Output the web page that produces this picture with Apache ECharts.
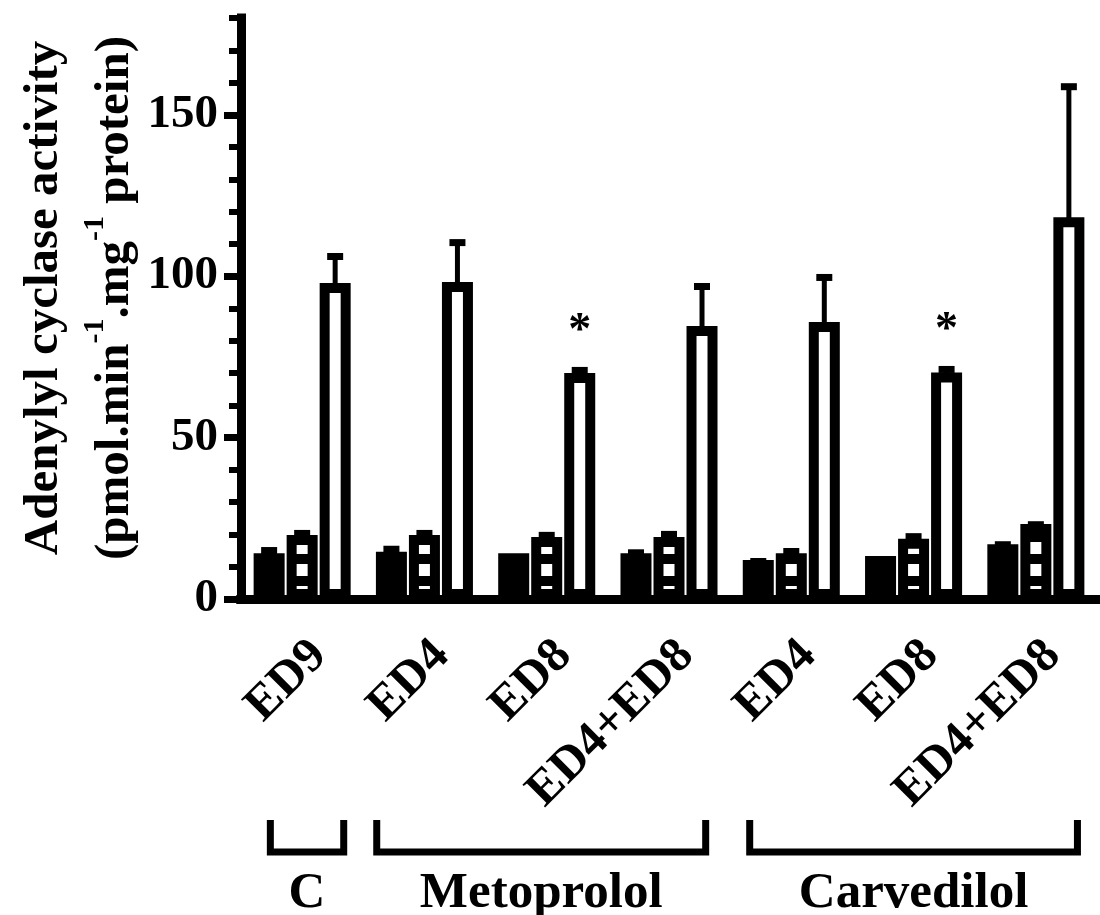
<!DOCTYPE html>
<html>
<head>
<meta charset="utf-8">
<script src="https://cdn.jsdelivr.net/npm/echarts@6/dist/echarts.min.js"></script>
<style>
  html, body { margin: 0; padding: 0; background: #fff; }
  #chart { width: 1100px; height: 915px; }
</style>
</head>
<body>
<div id="chart"></div>
<script>
// ---------- data ----------
const categories = ['ED9', 'ED4', 'ED8', 'ED4+ED8', 'ED4', 'ED8', 'ED4+ED8'];
const solidValues   = [14.2, 14.6, 14.2, 14.2, 12.1, 13.3, 17.0];
const solidErrors   = [1.9, 1.9, 0.0, 1.2, 0.6, 0.0, 0.9];
const stripedValues = [19.8, 19.8, 19.2, 19.2, 14.2, 18.7, 23.2];
const stripedErrors = [1.6, 1.6, 1.6, 1.9, 1.6, 1.7, 0.9];
const openValues    = [97.9, 98.2, 70.0, 84.6, 85.8, 70.2, 118.3];
const openErrors    = [9.3, 13.3, 1.9, 13.3, 14.9, 2.0, 41.5];
const significance  = ['', '', '*', '', '', '*', ''];
const yTickLabels   = [0, 50, 100, 150];
const yMinorTicks   = [0,10,20,30,40,50,60,70,80,90,100,110,120,130,140,150,160,170,180];
const groupNames    = ['C', 'Metoprolol', 'Carvedilol'];
const groupFrom     = [0, 1, 4];
const groupTo       = [0, 3, 6];

// ---------- style / layout constants ----------
const FONT = '"Liberation Serif", "Times New Roman", serif';
const BAR_W = 31;
const BAR_GAP = 0.065;
const BORDER = 10;
const CAP_W = 7;
const BRACKET_PAD_L = [0.26, 0.39, 0.34];   // fraction of a category band
const BRACKET_PAD_R = [0.34, 0.30, 0.34];

// stripe pattern for the middle bars
const pc = document.createElement('canvas');
pc.width = 4; pc.height = 22;
const pctx = pc.getContext('2d');
pctx.fillStyle = '#fff'; pctx.fillRect(0, 0, 4, 22);
pctx.fillStyle = '#000'; pctx.fillRect(0, 4, 4, 10);

const chart = echarts.init(document.getElementById('chart'), null, { renderer: 'canvas' });

function errSeries(values, errors, slot) {
  return {
    type: 'custom',
    xAxisIndex: 0, yAxisIndex: 0,
    z: 5,
    data: values.map((v, i) => [i, v, errors[i]]),
    encode: { x: 0, y: 1 },
    renderItem: function (params, api) {
      if (api.value(2) <= 0) return null;
      const base = api.coord([api.value(0), api.value(1)]);
      const top = api.coord([api.value(0), api.value(1) + api.value(2)]);
      const x = base[0] + (slot - 1) * BAR_W * (1 + BAR_GAP);
      const capY = top[1] + CAP_W / 2;
      return {
        type: 'group',
        children: [
          { type: 'line', shape: { x1: x, y1: base[1] + 2, x2: x, y2: capY },
            style: { stroke: '#000', lineWidth: 5 } },
          { type: 'line', shape: { x1: x - 8, y1: capY, x2: x + 8, y2: capY },
            style: { stroke: '#000', lineWidth: CAP_W } }
        ]
      };
    }
  };
}

const option = {
  backgroundColor: '#fff',
  animation: false,
  grid: { left: 241, right: 3, top: 18, bottom: 316, containLabel: false, outerBoundsMode: 'none' },
  xAxis: [
    {
      type: 'category',
      data: categories,
      position: 'bottom',
      axisLine: { lineStyle: { color: '#000', width: 9, cap: 'square' } },
      axisTick: { alignWithLabel: true, length: 23, lineStyle: { color: '#000', width: 8 } },
      axisLabel: {
        interval: 0, rotate: 45, margin: 32, verticalAlign: 'top',
        color: '#000', fontFamily: FONT, fontWeight: 'bold', fontSize: 49
      },
      splitLine: { show: false }
    },
    {
      type: 'category',
      data: categories,
      position: 'top',
      axisLine: { lineStyle: { color: '#000', width: 9, cap: 'square' } },
      axisTick: { show: false },
      axisLabel: { show: false },
      splitLine: { show: false }
    }
  ],
  yAxis: [
    {
      type: 'value',
      min: 0, max: 180, interval: 50,
      axisLine: { show: true, lineStyle: { color: '#000', width: 9, cap: 'square' } },
      axisTick: { show: true, length: 17, customValues: yTickLabels, lineStyle: { color: '#000', width: 7 } },
      axisLabel: {
        customValues: yTickLabels,
        formatter: v => (yTickLabels.indexOf(v) >= 0 ? String(v) : ''),
        margin: 23, color: '#000', fontFamily: FONT, fontWeight: 'bold', fontSize: 47
      },
      splitLine: { show: false }
    },
    {
      type: 'value',
      min: 0, max: 180, interval: 10,
      position: 'left',
      axisLine: { show: false },
      axisTick: { show: true, length: 12, customValues: yMinorTicks, lineStyle: { color: '#000', width: 6 } },
      axisLabel: { show: false },
      splitLine: { show: false }
    }
  ],
  series: [
    {
      type: 'bar', data: solidValues, barWidth: BAR_W, barGap: (BAR_GAP * 100) + '%',
      itemStyle: { color: '#000', borderColor: '#000', borderWidth: BORDER }
    },
    {
      type: 'bar', data: stripedValues, barWidth: BAR_W, barGap: (BAR_GAP * 100) + '%',
      itemStyle: { color: { image: pc, repeat: 'repeat' }, borderColor: '#000', borderWidth: BORDER }
    },
    {
      type: 'bar', data: openValues, barWidth: BAR_W, barGap: (BAR_GAP * 100) + '%',
      itemStyle: { color: '#fff', borderColor: '#000', borderWidth: BORDER },
      label: {
        show: true, position: 'top', distance: 18,
        formatter: p => significance[p.dataIndex],
        color: '#000', fontFamily: FONT, fontWeight: 'bold', fontSize: 46
      }
    },
    errSeries(solidValues, solidErrors, 0),
    errSeries(stripedValues, stripedErrors, 1),
    errSeries(openValues, openErrors, 2),
    {
      type: 'custom',
      xAxisIndex: 0, yAxisIndex: 0,
      clip: false,
      data: groupNames.map((n, i) => [groupFrom[i], groupTo[i], 0]),
      encode: { x: [0, 1], y: 2 },
      renderItem: function (params, api) {
        const i = params.dataIndex;
        const a = api.coord([api.value(0), 0]);
        const b = api.coord([api.value(1), 0]);
        const band = api.size([1, 0])[0];
        const x1 = a[0] - band * BRACKET_PAD_L[i];
        const x2 = b[0] + band * BRACKET_PAD_R[i];
        const yTop = a[1] + 221;
        const yBot = a[1] + 253;
        return {
          type: 'group',
          children: [
            { type: 'polyline',
              shape: { points: [[x1, yTop], [x1, yBot], [x2, yBot], [x2, yTop]] },
              style: { stroke: '#000', lineWidth: 7, fill: null, lineJoin: 'miter' } },
            { type: 'text',
              style: { text: groupNames[i], x: (x1 + x2) / 2, y: a[1] + 295,
                       align: 'center', verticalAlign: 'middle',
                       fontFamily: FONT, fontWeight: 'bold', fontSize: 51, fill: '#000' } }
          ]
        };
      }
    }
  ],
  graphic: [
    {
      type: 'text',
      x: 80, y: 298,
      rotation: Math.PI / 2,
      style: {
        text: 'Adenylyl cyclase activity\n(pmol.min{sup|-1}.mg{sup|-1} protein)',
        align: 'center', verticalAlign: 'middle',
        fontFamily: FONT, fontWeight: 'bold', fontSize: 49, lineHeight: 71, fill: '#000',
        rich: {
          sup: { fontFamily: FONT, fontWeight: 'bold', fontSize: 30, lineHeight: 62, verticalAlign: 'top', fill: '#000' }
        }
      }
    }
  ]
};

chart.setOption(option);
</script>
</body>
</html>
